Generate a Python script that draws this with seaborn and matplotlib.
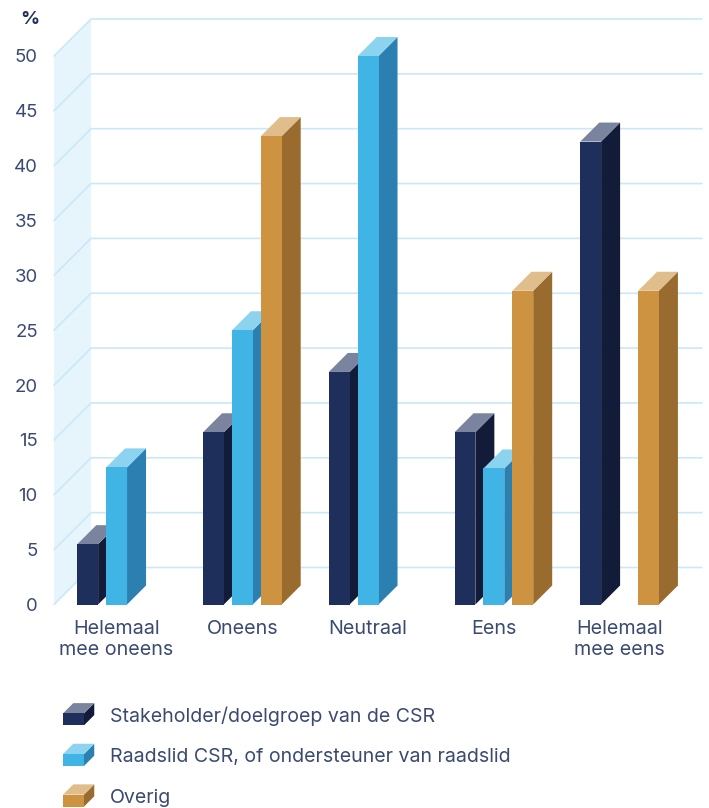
import matplotlib
matplotlib.use("Agg")
import matplotlib.pyplot as plt
import numpy as np
import pandas as pd
import seaborn as sns
from matplotlib.legend_handler import HandlerBase
from matplotlib.patches import Patch, Polygon

categories = ["Helemaal\nmee oneens", "Oneens", "Neutraal", "Eens", "Helemaal\nmee eens"]
series_names = [
    "Stakeholder/doelgroep van de CSR",
    "Raadslid CSR, of ondersteuner van raadslid",
    "Overig",
]
stakeholder = [5.5, 15.7, 21.2, 15.7, 42.2]
raadslid = [12.5, 25.0, 50.0, 12.4, np.nan]
overig = [np.nan, 42.7, np.nan, 28.6, 28.6]
y_ticks = list(range(0, 55, 5))

front_colors = ["#1F2F5C", "#40B4E5", "#CD9340"]
side_colors = ["#121B38", "#2B80B1", "#9A6B2E"]
top_colors = ["#7A849F", "#8CD3F0", "#E0BE8C"]
wall_color = "#E6F4FC"
grid_color = "#C9E9F8"
text_color = "#3B4A72"
title_color = "#1F2F5C"

W, H = 709, 808
sns.set_theme(style="white")
plt.rcParams["font.family"] = ["Inter", "DejaVu Sans"]

df = pd.DataFrame({
    "categorie": np.tile(categories, 3),
    "groep": np.repeat(series_names, len(categories)),
    "waarde": stakeholder + raadslid + overig,
})

fig = plt.figure(figsize=(W / 100, H / 100), dpi=100)
ax = fig.add_axes([54 / W, (H - 604.5) / H, (665 - 54) / W, 548.5 / H])

sns.barplot(
    data=df, x="categorie", y="waarde", hue="groep",
    order=categories, hue_order=series_names, palette=front_colors,
    width=0.69, gap=0.28, dodge=True, saturation=1, legend=False, ax=ax,
)

ax.set_xlim(-0.498, 4.361)
ax.set_ylim(0, 50)
sns.despine(ax=ax, left=True, bottom=True)
ax.patch.set_alpha(0)
ax.set_xlabel("")
ax.set_ylabel("")

# Data units per pixel, so the oblique depth can be expressed on the axes' own scales
ux = (ax.get_xlim()[1] - ax.get_xlim()[0]) / (665 - 54)
uy = 50 / 548.5


def depth(px):
    return px * ux, px * uy


# Back wall and grid, pushed into the depth of the chart
wx, wy = depth(37)
x0, x1 = ax.get_xlim()
ax.add_patch(Polygon([(x0, 0), (x0 + wx, wy), (x0 + wx, 50 + wy), (x0, 50)],
                     closed=True, fc=wall_color, ec="none", zorder=0.5, clip_on=False))
for t in y_ticks:
    ax.plot([x0, x0 + wx, x1 + wx], [t, t + wy, t + wy], color=grid_color, lw=1.2,
            zorder=0.6, clip_on=False, solid_joinstyle="miter")

# Side and top faces for every bar, painted left to right so nearer bars overlap
bx, by = depth(19)
palette_lookup = {matplotlib.colors.to_hex(c): i for i, c in enumerate(front_colors)}
bars = [p for p in ax.patches if isinstance(p, matplotlib.patches.Rectangle)
        and np.isfinite(p.get_height()) and p.get_height() > 0]
bars.sort(key=lambda p: p.get_x())
for n, bar in enumerate(bars):
    idx = palette_lookup[matplotlib.colors.to_hex(bar.get_facecolor())]
    left, w, h = bar.get_x(), bar.get_width(), bar.get_height()
    right = left + w
    z = 2 + n
    bar.set_zorder(z + 0.5)
    bar.set_edgecolor("none")
    bar.set_linewidth(0)
    bar.set_clip_on(False)
    ax.add_patch(Polygon([(right, 0), (right + bx, by), (right + bx, h + by), (right, h)],
                         closed=True, fc=side_colors[idx], ec="none", zorder=z, clip_on=False))
    ax.add_patch(Polygon([(left, h), (right, h), (right + bx, h + by), (left + bx, h + by)],
                         closed=True, fc=top_colors[idx], ec="none", zorder=z, clip_on=False))

ax.set_yticks(y_ticks)
ax.set_yticklabels([str(t) for t in y_ticks])
ax.tick_params(axis="y", length=0, pad=11.7, labelsize=13.4, labelcolor=text_color)
ax.tick_params(axis="x", length=0, pad=11, labelsize=14.2, labelcolor=text_color)
for lab in ax.get_xticklabels():
    lab.set_linespacing(1.22)

fig.text(30 / W, 1 - 19 / H, "%", ha="center", va="center", fontsize=13.5,
         fontweight="bold", color=title_color)


class CuboidHandler(HandlerBase):
    """Legend key drawn as a small oblique box in the series' three shades."""

    def __init__(self, shades):
        super().__init__()
        self.shades = shades

    def create_artists(self, legend, orig, xd, yd, width, height, fontsize, trans):
        f, s, t = self.shades[orig.get_label()]
        bw, bh, d = 15.1, 8.6, 7.4
        x, y = -xd, -yd + height / 2 - 7.6
        faces = [
            ([(x + bw, y), (x + bw + d, y + d), (x + bw + d, y + bh + d), (x + bw, y + bh)], s),
            ([(x, y + bh), (x + bw, y + bh), (x + bw + d, y + bh + d), (x + d, y + bh + d)], t),
            ([(x, y), (x + bw, y), (x + bw, y + bh), (x, y + bh)], f),
        ]
        return [Polygon(pts, closed=True, fc=c, ec="none", transform=trans) for pts, c in faces]


shades = {name: (front_colors[i], side_colors[i], top_colors[i])
          for i, name in enumerate(series_names)}
handles = [Patch(label=name) for name in series_names]
fig.legend(
    handles=handles, labels=series_names,
    handler_map={h: CuboidHandler(shades) for h in handles},
    loc="upper left", bbox_to_anchor=(63 / W, 1 - 706 / H), bbox_transform=fig.transFigure,
    frameon=False, borderpad=0, borderaxespad=0, handlelength=1.8, handleheight=1,
    handletextpad=0.6, labelspacing=1.08, fontsize=14.1, labelcolor=text_color,
)

fig.savefig("out.png", dpi=100, facecolor="white")
